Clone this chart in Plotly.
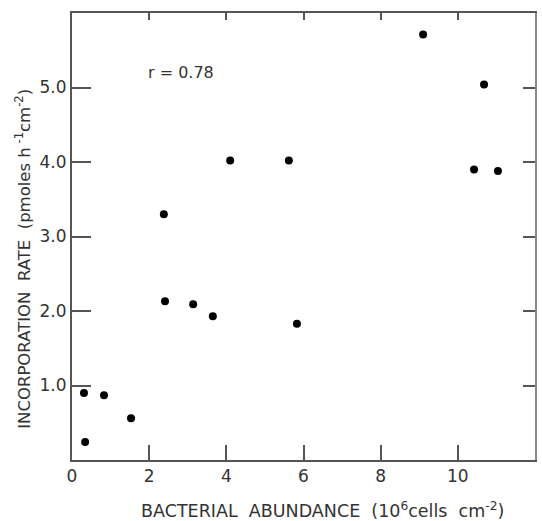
import plotly.graph_objects as go

abundance = [0.31, 0.34, 0.83, 1.53, 2.38, 2.41, 3.14, 3.65, 4.10, 5.62, 5.83, 9.10, 10.68, 10.42, 11.04]
rate = [0.90, 0.24, 0.87, 0.56, 3.30, 2.13, 2.09, 1.93, 4.02, 4.02, 1.83, 5.71, 5.04, 3.90, 3.88]

x_ticks = [0, 2, 4, 6, 8, 10, 12]
y_ticks = [1, 2, 3, 4, 5]
y_tick_labels = ["1.0", "2.0", "3.0", "4.0", "5.0"]

x_title = "BACTERIAL  ABUNDANCE  (10<sup>6</sup>cells  cm<sup>-2</sup>)"
y_title = "INCORPORATION  RATE  (pmoles h<sup> -1</sup>cm<sup>-2</sup>)"
r_label = "r = 0.78"

FONT = "DejaVu Sans"
INK = "#333333"
LINE = "#555555"

fig = go.Figure()
fig.add_trace(go.Scatter(x=abundance, y=rate, mode="markers",
                         marker=dict(color="black", size=8), showlegend=False,
                         hoverinfo="skip"))
# invisible copy on the top/right axes so they get their own tick marks
fig.add_trace(go.Scatter(x=abundance, y=rate, mode="markers", xaxis="x2", yaxis="y2",
                         marker=dict(color="rgba(0,0,0,0)", size=1), showlegend=False,
                         hoverinfo="skip"))

fig.update_layout(
    width=542, height=521,
    margin=dict(l=72, r=7, t=13, b=61),
    paper_bgcolor="white", plot_bgcolor="white",
    font=dict(family=FONT, color=INK, size=17),
    xaxis=dict(range=[0, 12], tickvals=x_ticks, ticktext=[str(v) for v in x_ticks],
               ticks="inside", ticklen=15, tickwidth=2, tickcolor=LINE,
               showline=True, linewidth=2, linecolor=LINE,
               showgrid=False, zeroline=False, automargin=False,
               tickfont=dict(size=17, color=INK)),
    yaxis=dict(range=[0, 6], tickvals=y_ticks, ticktext=y_tick_labels,
               ticks="inside", ticklen=19, tickwidth=2, tickcolor=LINE,
               showline=True, linewidth=2, linecolor=LINE,
               showgrid=False, zeroline=False, automargin=False,
               tickfont=dict(size=17, color=INK)),
    xaxis2=dict(range=[0, 12], overlaying="x", side="top", anchor="y2",
                tickvals=x_ticks, ticks="inside", ticklen=7, tickwidth=2, tickcolor=LINE,
                showline=True, linewidth=2, linecolor=LINE, showticklabels=False,
                showgrid=False, zeroline=False, automargin=False),
    yaxis2=dict(range=[0, 6], overlaying="y", side="right", anchor="x2",
                tickvals=y_ticks, ticks="inside", ticklen=12, tickwidth=2, tickcolor=LINE,
                showline=True, linewidth=2, linecolor="#888888", showticklabels=False,
                showgrid=False, zeroline=False, automargin=False),
    annotations=[
        dict(text=r_label, x=2.83, y=5.2, xref="x", yref="y",
             showarrow=False, font=dict(size=16, color=INK, family=FONT)),
        dict(text=x_title, x=0.54, y=-0.112, xref="paper", yref="paper",
             xanchor="center", yanchor="middle", showarrow=False,
             font=dict(size=17.5, color=INK, family=FONT)),
        dict(text=y_title, x=-0.106, y=0.45, xref="paper", yref="paper",
             xanchor="center", yanchor="middle", textangle=-90, showarrow=False,
             font=dict(size=16.5, color=INK, family=FONT)),
    ],
)

fig.write_html("out.html", config={"displayModeBar": False},
               post_script="document.body.style.margin='0px';")
